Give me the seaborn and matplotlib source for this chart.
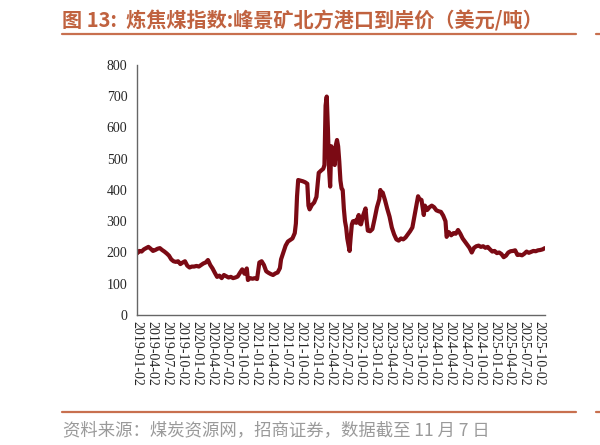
import matplotlib
matplotlib.use("Agg")
import matplotlib.pyplot as plt
import matplotlib.dates as mdates
from matplotlib.lines import Line2D
import seaborn as sns
import pandas as pd

dates = [
    "2019-01-02","2019-01-16","2019-01-30","2019-02-13","2019-02-27","2019-03-13","2019-03-27",
    "2019-04-10","2019-04-24","2019-05-08","2019-05-22","2019-06-05","2019-06-19","2019-07-03",
    "2019-07-17","2019-07-31","2019-08-14","2019-08-28","2019-09-11","2019-09-25","2019-10-09",
    "2019-10-23","2019-11-06","2019-11-20","2019-12-04","2019-12-18",
    "2020-01-02","2020-01-16","2020-01-30","2020-02-13","2020-02-27","2020-03-12","2020-03-26",
    "2020-04-09","2020-04-23","2020-05-07","2020-05-21","2020-06-04","2020-06-18","2020-07-02",
    "2020-07-16","2020-07-30","2020-08-13","2020-08-27","2020-09-10","2020-09-24","2020-10-08",
    "2020-10-22","2020-11-05","2020-11-12","2020-11-26","2020-12-10","2020-12-24","2021-01-07",
    "2021-01-21","2021-02-04","2021-02-18","2021-03-04","2021-03-18","2021-04-01","2021-04-15",
    "2021-04-29","2021-05-13","2021-05-27","2021-06-03","2021-06-17","2021-07-01","2021-07-15",
    "2021-07-29","2021-08-12","2021-08-26","2021-09-02","2021-09-09","2021-09-16","2021-09-30",
    "2021-10-14","2021-10-28","2021-11-11","2021-11-18","2021-11-25","2021-12-09","2021-12-23",
    "2022-01-06","2022-01-20","2022-02-03","2022-02-17","2022-02-24","2022-03-03","2022-03-10",
    "2022-03-17","2022-03-24","2022-03-31","2022-04-07","2022-04-14","2022-04-21","2022-04-28",
    "2022-05-05","2022-05-12","2022-05-19","2022-05-26","2022-06-02","2022-06-09","2022-06-16",
    "2022-06-23","2022-06-30","2022-07-07","2022-07-14","2022-07-21","2022-07-28","2022-08-04",
    "2022-08-11","2022-08-18","2022-08-25","2022-09-01","2022-09-08","2022-09-15","2022-09-22",
    "2022-09-29","2022-10-06","2022-10-20","2022-11-03","2022-11-10","2022-11-17","2022-12-01",
    "2022-12-15","2022-12-29","2023-01-12","2023-01-26","2023-02-02","2023-02-09","2023-02-16",
    "2023-03-02","2023-03-16","2023-03-30","2023-04-13","2023-04-27","2023-05-11","2023-05-25",
    "2023-06-08","2023-06-22","2023-07-06","2023-07-20","2023-08-03","2023-08-17","2023-08-31",
    "2023-09-14","2023-09-21","2023-09-28","2023-10-12","2023-10-26","2023-11-02","2023-11-16",
    "2023-11-30","2023-12-14","2023-12-28","2024-01-11","2024-01-25","2024-02-08","2024-02-22",
    "2024-03-07","2024-03-14","2024-03-28","2024-04-11","2024-04-25","2024-05-09","2024-05-23",
    "2024-06-06","2024-06-20","2024-07-04","2024-07-18","2024-08-01","2024-08-15","2024-08-29",
    "2024-09-12","2024-09-26","2024-10-10","2024-10-24","2024-11-07","2024-11-21","2024-12-05",
    "2024-12-19","2025-01-02","2025-01-16","2025-01-30","2025-02-13","2025-02-27","2025-03-13",
    "2025-03-27","2025-04-10","2025-04-24","2025-05-08","2025-05-22","2025-06-05","2025-06-19",
    "2025-07-03","2025-07-17","2025-07-31","2025-08-14","2025-08-28","2025-09-11","2025-09-25",
    "2025-10-09","2025-10-23","2025-11-06",
]
prices = [
    197, 205, 203, 210, 214, 218, 212,
    205, 208, 212, 214, 208, 203, 197,
    190, 178, 172, 170, 172, 163, 168,
    172, 158, 152, 155, 155,
    157, 155, 160, 165, 168, 176, 160,
    149, 135, 122, 126, 118, 128, 124,
    120, 122, 118, 120, 123, 135, 146,
    132, 149, 112, 118, 116, 118, 115,
    168, 172, 160, 140, 135, 131, 128,
    133, 136, 150, 178, 200, 222, 235,
    240, 245, 262, 293, 380, 432, 430,
    428, 425, 420, 350, 338, 352, 360,
    378, 455, 462, 468, 480, 670, 699,
    600, 470, 411, 540, 523, 490, 480,
    544, 560, 540, 491, 430, 405, 400,
    340, 300, 280, 245, 225, 205, 250,
    290, 300, 296, 302, 295, 309, 320,
    293, 290, 320, 341, 300, 270, 268,
    275, 309, 345, 370, 400, 385, 392,
    368, 340, 315, 280, 258, 242, 238,
    245, 242, 248, 258, 268, 280, 320,
    360, 380, 372, 368, 320, 350, 336,
    345, 350, 345, 335, 332, 330, 318,
    300, 250, 265, 255, 262, 260, 272,
    260, 245, 235, 225, 215, 200, 215,
    220, 222, 218, 220, 215, 218, 210,
    203, 205, 198, 200, 195, 185, 190,
    200, 204, 205, 207, 192, 193, 191,
    196, 203, 199, 202, 205, 204, 207,
    208, 210, 214,
]
tick_dates = [
    "2019-01-02","2019-04-02","2019-07-02","2019-10-02","2020-01-02","2020-04-02","2020-07-02",
    "2020-10-02","2021-01-02","2021-04-02","2021-07-02","2021-10-02","2022-01-02","2022-04-02",
    "2022-07-02","2022-10-02","2023-01-02","2023-04-02","2023-07-02","2023-10-02","2024-01-02",
    "2024-04-02","2024-07-02","2024-10-02","2025-01-02","2025-04-02","2025-07-02","2025-10-02",
]
y_ticks = [0, 100, 200, 300, 400, 500, 600, 700, 800]

title = "图 13:  炼焦煤指数:峰景矿北方港口到岸价（美元/吨）"
source = "资料来源：煤炭资源网，招商证券，数据截至 11 月 7 日"

sns.set_style("white")
plt.rcParams["font.family"] = ["Liberation Serif", "DejaVu Serif"]
cjk = ["Noto Sans CJK SC", "DejaVu Sans"]

df = pd.DataFrame({"date": pd.to_datetime(dates), "price": prices})

fig = plt.figure(figsize=(6.0, 4.45), dpi=100)
ax = fig.add_axes([137/600, 1-315/445, (545-137)/600, (315-65)/445])

sns.lineplot(data=df, x="date", y="price", ax=ax, color="#7B0A14", linewidth=3.0)

ax.set_ylim(0, 800)
ax.set_yticks(y_ticks)
ax.set_xlim(pd.Timestamp("2019-01-02"), pd.Timestamp("2025-11-07"))
tks = pd.to_datetime(tick_dates)
ax.set_xticks(tks)
ax.set_xticklabels(tick_dates, rotation=-90, fontsize=10, va="top", ha="center")
ax.tick_params(axis="y", labelsize=10, length=4, width=0.8, color="#555555", direction="out", pad=3)
ax.tick_params(axis="x", length=0, pad=4)
ax.set_xlabel("")
ax.set_ylabel("")
for s in ["top", "right"]:
    ax.spines[s].set_visible(False)
for s in ["left", "bottom"]:
    ax.spines[s].set_color("#666666")
    ax.spines[s].set_linewidth(1.0)
ax.grid(False)

accent = "#C8704F"
fig.text(62/600, 1-21/445, title, family=cjk, fontsize=14.5, fontweight="bold",
         color="#C0623F", va="center", ha="left")
fig.add_artist(Line2D([62/600, 576/600], [1-34/445, 1-34/445], color=accent, lw=1.6))
fig.add_artist(Line2D([596/600, 600/600], [1-34/445, 1-34/445], color=accent, lw=1.6))
fig.add_artist(Line2D([62/600, 576/600], [1-412/445, 1-412/445], color=accent, lw=1.6))
fig.add_artist(Line2D([596/600, 600/600], [1-412/445, 1-412/445], color=accent, lw=1.6))
fig.text(63/600, 1-430/445, source, family=cjk, fontsize=12.5, color="#9A9A9A",
         va="center", ha="left")

fig.savefig("out.png", dpi=100)
